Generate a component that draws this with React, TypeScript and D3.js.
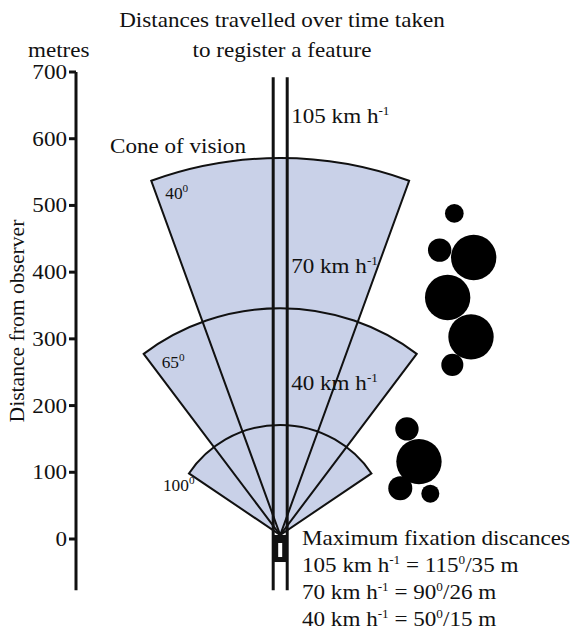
import React from "react";
import * as d3 from "d3";

const W = 570;
const H = 630;

// axis
const yTicks = [0, 100, 200, 300, 400, 500, 600, 700];

// cones of vision (label angle, drawn angular span, reach in metres)
const coneAngleLabels = [40, 65, 100];
const coneDrawnSpan = [40, 74, 112];
const coneReach = [565, 340, 165];
const apexDistance = 6;

// speed annotations along the road (distance in metres where label sits)
const speedLabels = [105, 70, 40];
const speedLabelDist = [624, 399, 223];

// maximum fixation distances
const fixSpeeds = [105, 70, 40];
const fixAngles = [115, 90, 50];
const fixDist = [35, 26, 15];

// features (lateral offset m, distance m, radius m)
const featureLateral = [261, 239, 290, 251, 286, 258, 190, 208, 180, 225];
const featureDist = [488, 433, 422, 362, 303, 261, 165, 116, 76, 68];
const featureRadius = [14, 17.5, 34, 34, 34, 16.5, 17.5, 34, 18, 13.5];

// road & car
const roadHalfWidth = 10.5;
const roadTop = 692;
const roadBottom = -77;
const carTop = 6;
const carBottom = -34.5;

const FONT = "'Liberation Serif', 'Times New Roman', Times, serif";
const SX = 1.1;
const FILL = "#c9d1e8";

const yScale = d3.scaleLinear().domain([0, 700]).range([539, 72]);
const k = (539 - 72) / 700;
const xScale = d3.scaleLinear().domain([-420, 434]).range([0, 854 * k]);

type TProps = {
  x: number;
  y: number;
  size?: number;
  anchor?: string;
  rotate?: number;
  sx?: number;
  children?: React.ReactNode;
};
function T({ x, y, size = 21, anchor = "start", rotate = 0, sx = SX, children }: TProps) {
  return (
    <text
      transform={`translate(${x},${y}) rotate(${rotate}) scale(${sx},1)`}
      fontSize={size}
      textAnchor={anchor}
      fontFamily={FONT}
      fill="#111"
    >
      {children}
    </text>
  );
}

export default function App() {
  const apexX = xScale(0);
  const apexY = yScale(apexDistance);
  const axisX = 76;
  const arcGen = d3.arc<any>();
  const conePaths = coneReach.map((r, i) => {
    const half = ((coneDrawnSpan[i] / 2) * Math.PI) / 180;
    return arcGen({ innerRadius: 0, outerRadius: r * k, startAngle: -half, endAngle: half }) as string;
  });

  const roadL = xScale(-roadHalfWidth);
  const roadR = xScale(roadHalfWidth);

  const labelOffsets = [
    { dx: 14, dy: 18 },
    { dx: 18, dy: 14 },
    { dx: -26, dy: 18 },
  ];

  return (
    <svg
      width={W}
      height={H}
      style={{ position: "absolute", left: 0, top: 0, background: "#fff" }}
    >
      {/* cone fills */}
      <g transform={`translate(${apexX},${apexY})`}>
        {conePaths.map((p, i) => (
          <path key={"f" + i} d={p} fill={FILL} stroke="none" />
        ))}
        {conePaths.map((p, i) => (
          <path key={"o" + i} d={p} fill="none" stroke="#111" strokeWidth={2} strokeLinejoin="miter" />
        ))}
      </g>

      {/* road */}
      <line x1={roadL} x2={roadL} y1={yScale(roadTop)} y2={yScale(roadBottom)} stroke="#111" strokeWidth={3} />
      <line x1={roadR} x2={roadR} y1={yScale(roadTop)} y2={yScale(roadBottom)} stroke="#111" strokeWidth={3} />
      {/* car */}
      <rect
        x={roadL}
        y={yScale(carTop)}
        width={roadR - roadL}
        height={yScale(carBottom) - yScale(carTop)}
        fill="#111"
      />
      <rect
        x={apexX - 2}
        y={yScale(carTop) + 8}
        width={4}
        height={yScale(carBottom) - yScale(carTop) - 13}
        fill="#fff"
      />

      {/* features */}
      {featureLateral.map((lx, i) => (
        <circle key={"c" + i} cx={xScale(lx)} cy={yScale(featureDist[i])} r={featureRadius[i] * k} fill="#000" />
      ))}

      {/* axis */}
      <line x1={axisX} x2={axisX} y1={yScale(700)} y2={yScale(-77)} stroke="#111" strokeWidth={3} />
      {yTicks.map((t) => (
        <g key={"t" + t}>
          <line x1={axisX - 7} x2={axisX} y1={yScale(t)} y2={yScale(t)} stroke="#111" strokeWidth={3} />
          <T x={axisX - 9} y={yScale(t) + 7} anchor="end">
            {t}
          </T>
        </g>
      ))}
      <T x={24} y={321} rotate={-90} anchor="middle" sx={1.03}>
        Distance from observer
      </T>
      <T x={28} y={57}>metres</T>

      {/* title */}
      <T x={282} y={27} anchor="middle">Distances travelled over time taken</T>
      <T x={282} y={57} anchor="middle">to register a feature</T>

      <T x={110} y={153}>Cone of vision</T>

      {/* cone labels */}
      {coneAngleLabels.map((a, i) => {
        const half = ((coneDrawnSpan[i] / 2) * Math.PI) / 180;
        const cx = apexX - Math.sin(half) * coneReach[i] * k;
        const cy = apexY - Math.cos(half) * coneReach[i] * k;
        return (
          <T key={"cl" + i} x={cx + labelOffsets[i].dx} y={cy + labelOffsets[i].dy} size={17} sx={1.02}>
            <tspan>{a}</tspan>
            <tspan dy={-7} fontSize={11}>0</tspan>
          </T>
        );
      })}

      {/* speed labels */}
      {speedLabels.map((s, i) => (
        <T key={"s" + i} x={roadR + 4} y={yScale(speedLabelDist[i])}>
          <tspan>{s} km h</tspan>
          <tspan dy={-8} fontSize={12}>-1</tspan>
        </T>
      ))}

      {/* fixation distances */}
      <T x={302} y={545}>Maximum fixation discances</T>
      {fixSpeeds.map((s, i) => (
        <T key={"fx" + i} x={302} y={572 + i * 27}>
          <tspan>{s} km h</tspan>
          <tspan dy={-8} fontSize={12}>-1</tspan>
          <tspan dy={8}> = {fixAngles[i]}</tspan>
          <tspan dy={-8} fontSize={12}>0</tspan>
          <tspan dy={8}>/{fixDist[i]} m</tspan>
        </T>
      ))}
    </svg>
  );
}
